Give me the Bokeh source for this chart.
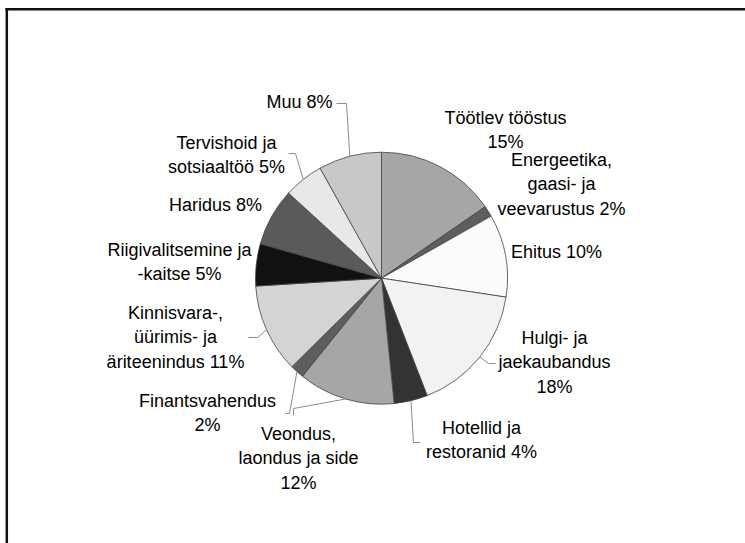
import math
from bokeh.plotting import figure
from bokeh.models import Range1d, ColumnDataSource
from bokeh.embed import file_html
from bokeh.resources import INLINE
from bokeh.core.properties import value

# ---------------- data ----------------
categories = ["Töötlev tööstus", "Energeetika, gaasi- ja veevarustus", "Ehitus",
              "Hulgi- ja jaekaubandus", "Hotellid ja restoranid",
              "Veondus, laondus ja side", "Finantsvahendus",
              "Kinnisvara-, üürimis- ja äriteenindus", "Riigivalitsemine ja -kaitse",
              "Haridus", "Tervishoid ja sotsiaaltöö", "Muu"]
# slice shares as drawn in the picture (%)
shares = [15.4, 1.4, 10.6, 16.7, 4.3, 12.4, 1.8, 11.4, 5.4, 7.4, 5.1, 8.1]
# percentages printed in the labels
percent_labels = ["15%", "2%", "10%", "18%", "4%", "12%", "2%", "11%", "5%", "8%", "5%", "8%"]
# label name wrapping, and whether the percentage goes on its own line
name_lines = [["Töötlev tööstus"], ["Energeetika,", "gaasi- ja", "veevarustus"], ["Ehitus"],
              ["Hulgi- ja", "jaekaubandus"], ["Hotellid ja", "restoranid"],
              ["Veondus,", "laondus ja side"], ["Finantsvahendus"],
              ["Kinnisvara-,", "üürimis- ja", "äriteenindus"], ["Riigivalitsemine ja", "-kaitse"],
              ["Haridus"], ["Tervishoid ja", "sotsiaaltöö"], ["Muu"]]
pct_own_line = [True, False, False, True, False, True, True, False, False, False, False, False]

# ---------------- style / layout ----------------
colors = ["#a6a6a6", "#5e5e5e", "#fbfbfb", "#f2f2f2", "#333333", "#a6a6a6",
          "#5e5e5e", "#d4d4d4", "#111111", "#5a5a5a", "#e8e8e8", "#c8c8c8"]
W, H = 745, 543
CX, CY, R = 381, 277.7, 126   # pie centre / radius in page pixels
FONT = "Liberation Sans"
FSIZE = "18px"
LINE_STEP = 24.5
# first-line centre of each label (page px)
label_pos = [(505, 117), (561, 159), (556, 251), (554, 337), (481, 427), (298, 433),
             (207, 400), (175, 312), (179, 249), (215, 204), (226, 142), (299, 101)]
# leader lines: elbow + end points (page px); None = no leader
leaders = [None, None, None, [(488, 363), (495, 363)], [(413, 442), (420, 442)],
           [(293, 408), (293, 415)], [(289, 413), (285, 413)], [(257, 337), (248, 337)],
           None, None, [(295, 153), (288, 153)], [(346, 103), (336, 103)]]


def Y(py):
    return -py


p = figure(width=W, height=H, output_backend="svg", toolbar_location=None,
           x_range=Range1d(0, W), y_range=Range1d(-H, 0),
           x_axis_location=None, y_axis_location=None, min_border=0,
           background_fill_color="white", border_fill_color="white",
           outline_line_color=None)
p.grid.visible = False

# frame (only top and left edges are inside the window in the reference)
p.line([6.3, 6.3], [Y(7.5), Y(H)], line_color="#111111", line_width=2.5)
p.line([5, W], [Y(8.7), Y(8.7)], line_color="#111111", line_width=2.5)

# pie
total = sum(shares)
starts, ends, mids = [], [], []
cum = 0.0
for s in shares:
    a0 = cum / total * 360.0
    cum += s
    a1 = cum / total * 360.0
    starts.append(math.radians(90 - a1))
    ends.append(math.radians(90 - a0))
    mids.append((a0 + a1) / 2)

src = ColumnDataSource(dict(cat=categories, start=starts, end=ends, color=colors))
p.wedge(x=CX, y=Y(CY), radius=R, start_angle="start", end_angle="end",
        direction="anticlock", fill_color="color", line_color="#444444",
        line_width=0.8, source=src)

# leader lines
for i, ld in enumerate(leaders):
    if ld is None:
        continue
    m = math.radians(mids[i])
    ex, ey = CX + R * math.sin(m), CY - R * math.cos(m)
    xs = [ex] + [q[0] for q in ld]
    ys = [Y(ey)] + [Y(q[1]) for q in ld]
    p.line(xs, ys, line_color="#8c8c8c", line_width=1)

# labels
tx, ty, tt = [], [], []
for i, lines in enumerate(name_lines):
    lines = list(lines)
    if pct_own_line[i]:
        lines.append(percent_labels[i])
    else:
        lines[-1] = lines[-1] + " " + percent_labels[i]
    x0, y0 = label_pos[i]
    for k, t in enumerate(lines):
        tx.append(x0)
        ty.append(Y(y0 + k * LINE_STEP))
        tt.append(t)
p.text(x=tx, y=ty, text=tt, text_font=value(FONT), text_font_size=FSIZE,
       text_align="center", text_baseline="middle", text_color="#000000")

open("out.html", "w").write(file_html(p, INLINE))
